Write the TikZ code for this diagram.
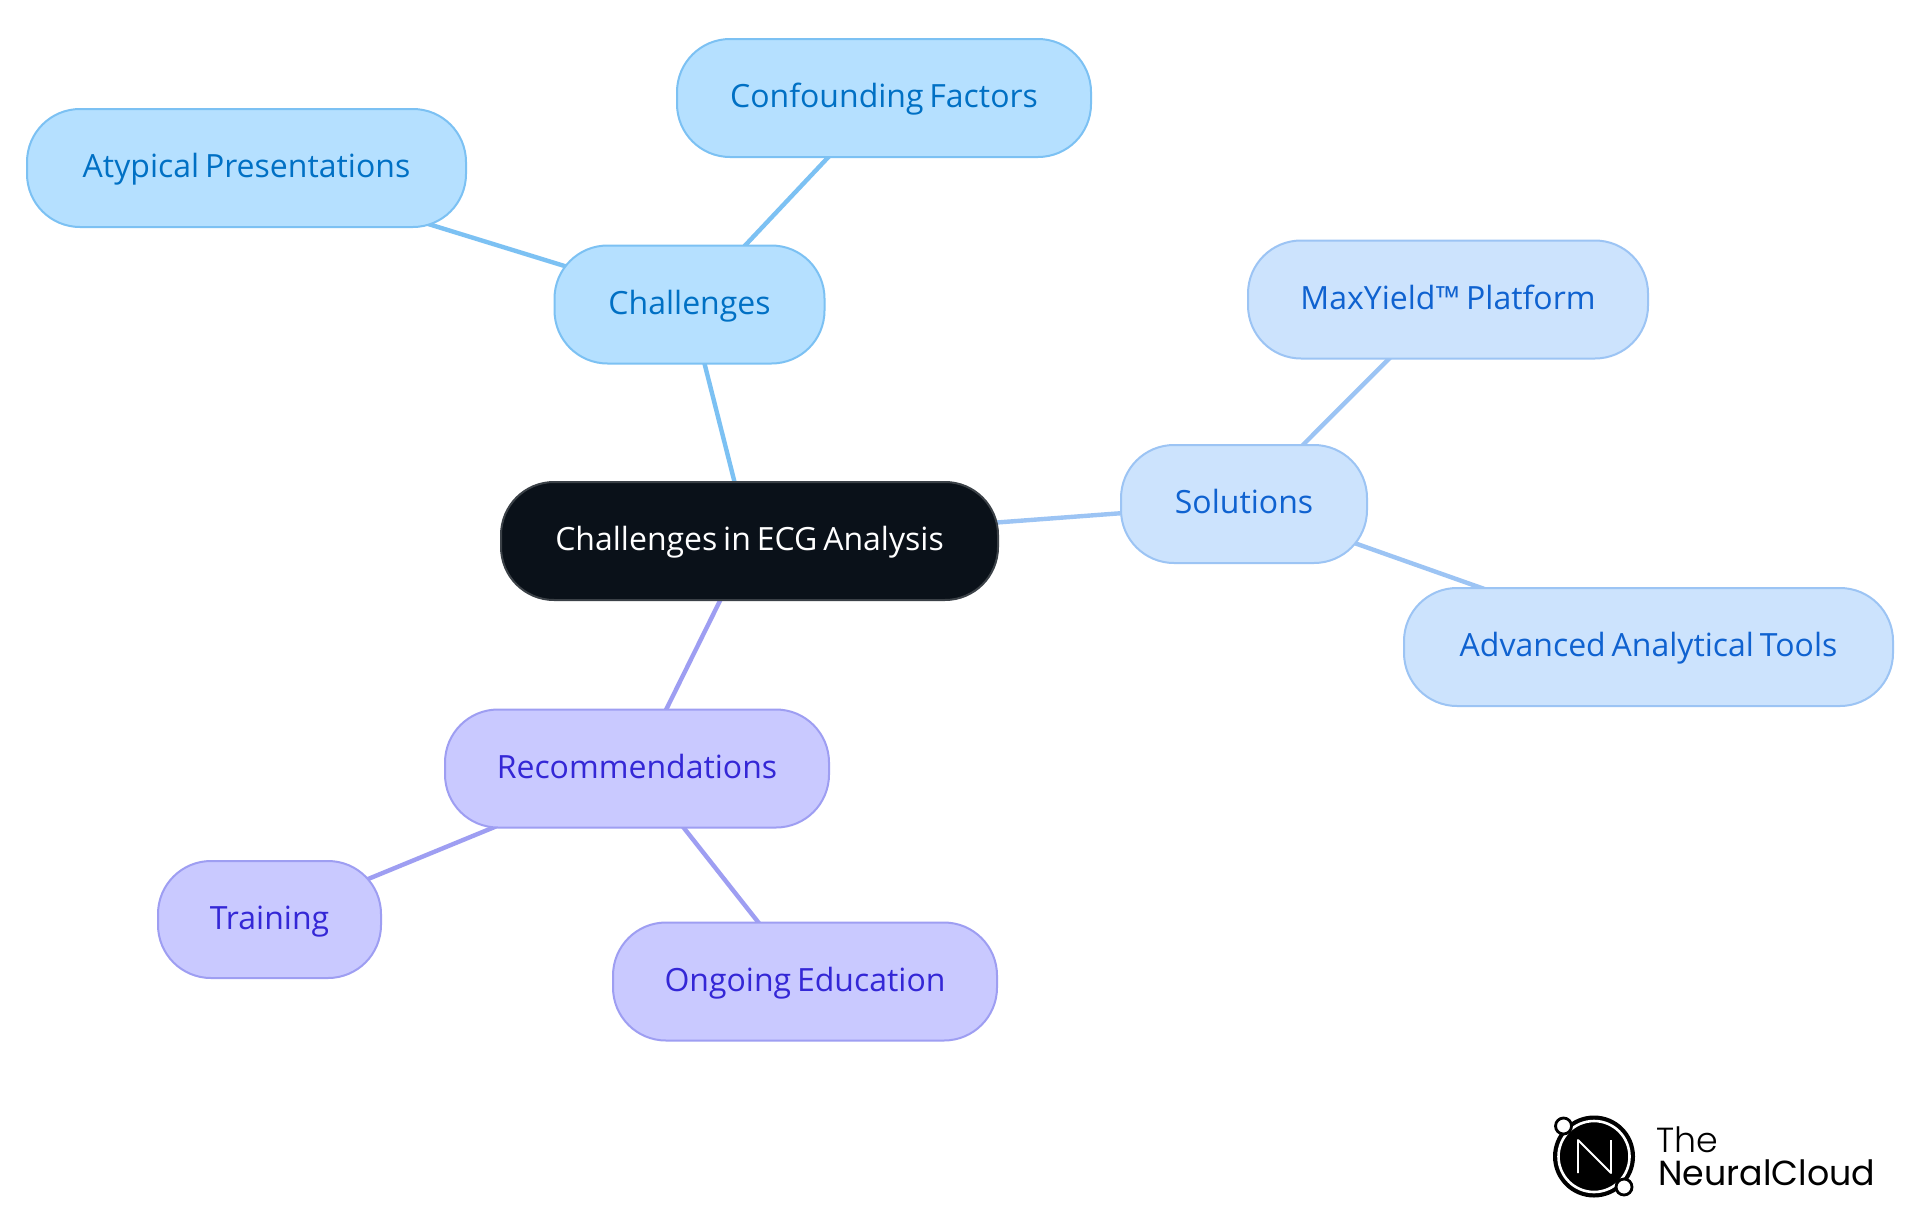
\documentclass[tikz,border=0pt]{standalone}
\usepackage{fontspec}
\setmainfont[WordSpace=0.7]{Open Sans}
\newfontfamily\logofont{Poppins Light}
\newfontfamily\logofontb{Poppins}
\usetikzlibrary{backgrounds}
\definecolor{bA}{HTML}{B5E0FF}\definecolor{sA}{HTML}{7CC1F3}\definecolor{tA}{HTML}{0070C4}
\definecolor{bB}{HTML}{CCE3FD}\definecolor{sB}{HTML}{9CC4F4}\definecolor{tB}{HTML}{0F62D0}
\definecolor{bC}{HTML}{C9C9FF}\definecolor{sC}{HTML}{9E9EF2}\definecolor{tC}{HTML}{3427D6}
\definecolor{rootc}{HTML}{0A1119}
\tikzset{
 box/.style={rounded corners=26.5pt,line width=1pt,font=\fontsize{16}{18}\selectfont,inner sep=0pt,anchor=center,align=center,text height=10pt,text depth=0.5pt},
 boxA/.style={box,fill=bA,draw=sA,text=tA},
 boxB/.style={box,fill=bB,draw=sB,text=tB},
 boxC/.style={box,fill=bC,draw=sC,text=tC},
 rootbox/.style={box,fill=rootc,draw=rootc!80!white,text=white},
 linkA/.style={draw=sA,line width=2.2pt},
 linkB/.style={draw=sB,line width=2.2pt},
 linkC/.style={draw=sC,line width=2.2pt},
 sz/.style 2 args={minimum width=#1*0.5pt,minimum height=#2*0.5pt},
}
\begin{document}
\begin{tikzpicture}[x=0.5pt,y=-0.5pt]
\useasboundingbox (0,0) rectangle (1920,1215);
\node[rootbox,sz={497}{118}] (root) at (749.5,541) {Challenges in ECG Analysis};
\node[boxA,sz={270}{118}] (chal) at (689.5,304.5) {Challenges};
\node[boxA,sz={414}{118}] (conf) at (884,98) {Confounding Factors};
\node[boxA,sz={439}{118}] (atyp) at (246.5,168) {Atypical Presentations};
\node[boxB,sz={246}{118}] (sol) at (1244,504) {Solutions};
\node[boxB,sz={400}{118}] (maxy) at (1448,299.5) {MaxYield™ Platform};
\node[boxB,sz={489}{118}] (adv) at (1648.5,647) {Advanced Analytical Tools};
\node[boxC,sz={384}{118}] (rec) at (637,768.5) {Recommendations};
\node[boxC,sz={223}{117}] (train) at (269.5,919.5) {Training};
\node[boxC,sz={384}{118}] (ong) at (805,981.5) {Ongoing Education};
\begin{scope}[on background layer]
\fill[white] (0,0) rectangle (1920,1215);
\draw[linkA] (root.center) -- (chal.center);
\draw[linkA] (chal.center) -- (conf.center);
\draw[linkA] (chal.center) -- (atyp.center);
\draw[linkB] (root.center) -- (sol.center);
\draw[linkB] (sol.center) -- (maxy.center);
\draw[linkB] (sol.center) -- (adv.center);
\draw[linkC] (root.center) -- (rec.center);
\draw[linkC] (rec.center) -- (train.center);
\draw[linkC] (rec.center) -- (ong.center);
\end{scope}
% logo
\fill[black] (1594,1156.5) circle[radius=41];
\draw[white,line width=1.3pt] (1594,1156.5) circle[radius=35.5];
\draw[white,line width=0.9pt,line join=round] (1578,1173) -- (1578,1140) -- (1611,1173) -- (1611,1140);
\draw[black,fill=white,line width=1.4pt] (1563.5,1126) circle[radius=8];
\draw[black,fill=white,line width=1.4pt] (1624,1187) circle[radius=8];
\node[anchor=base west,inner sep=0pt,font=\logofont\fontsize{17.4}{18}\selectfont] (logoa) at (1656,1152) {The};
\node[anchor=base west,inner sep=0pt,font=\logofontb\fontsize{17.4}{18}\selectfont] (logob) at (1658,1185) {NeuralCloud};
\end{tikzpicture}
\end{document}
